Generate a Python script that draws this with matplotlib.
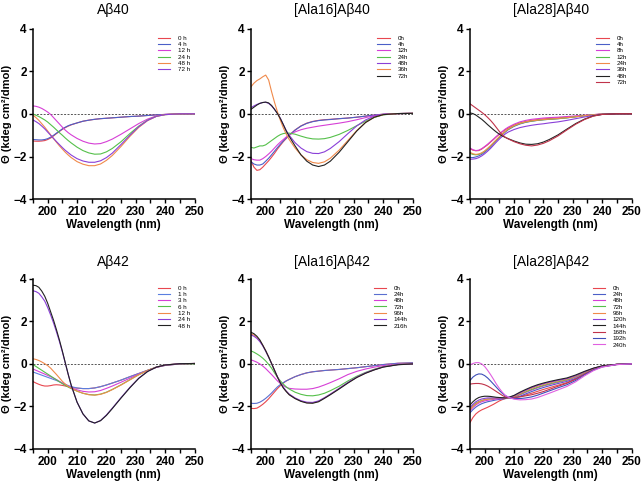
import matplotlib
matplotlib.use("Agg")
import matplotlib.pyplot as plt
from matplotlib.ticker import MultipleLocator

plt.rcParams['font.family'] = ['Liberation Sans', 'DejaVu Sans']

# wavelength grid (nm)
wl = [195, 196, 197, 198, 199, 200, 201, 202, 203, 204, 205, 206, 207, 208,
      210, 212, 214, 216, 218, 220, 222, 225, 228, 231, 234, 237, 240, 245, 250]

RED = '#e8474f'
BLUE = '#4b5fc8'
MAG = '#d63fd6'
GREEN = '#55c04a'
ORANGE = '#f08a4b'
PURPLE = '#8a3fd8'
BLACK = '#222222'
CRIMSON = '#c0334a'
NAVY = '#3e4fb8'
PINK = '#e060e0'

# ---- Abeta40
ab40_labels = ['0 h', '4 h', '12 h', '24 h', '48 h', '72 h']
ab40_colors = [RED, BLUE, MAG, GREEN, ORANGE, PURPLE]
ab40 = [
    [-1.27, -1.28, -1.28, -1.27, -1.25, -1.2, -1.13, -1.03, -0.92, -0.82, -0.72, -0.64, -0.57, -0.51,
     -0.42, -0.34, -0.29, -0.25, -0.22, -0.2, -0.18, -0.15, -0.12, -0.1, -0.07, -0.04, -0.02, 0.0, 0.0],
    [-1.2, -1.21, -1.22, -1.22, -1.2, -1.16, -1.09, -1.0, -0.9, -0.8, -0.7, -0.62, -0.55, -0.5,
     -0.42, -0.34, -0.29, -0.25, -0.22, -0.2, -0.18, -0.15, -0.12, -0.1, -0.07, -0.04, -0.02, 0.0, 0.0],
    [0.38, 0.36, 0.32, 0.26, 0.18, 0.09, -0.02, -0.17, -0.32, -0.47, -0.62, -0.76, -0.88, -0.98,
     -1.15, -1.28, -1.37, -1.41, -1.39, -1.3, -1.18, -0.95, -0.7, -0.45, -0.24, -0.09, -0.02, 0.01, 0.01],
    [0.0, -0.06, -0.12, -0.2, -0.28, -0.38, -0.5, -0.62, -0.75, -0.88, -1.0, -1.13, -1.25, -1.36,
     -1.56, -1.72, -1.83, -1.89, -1.88, -1.78, -1.62, -1.3, -0.92, -0.57, -0.29, -0.11, -0.03, 0.01, 0.01],
    [-0.05, -0.17, -0.3, -0.46, -0.62, -0.8, -0.98, -1.16, -1.33, -1.5, -1.65, -1.8, -1.93, -2.05,
     -2.24, -2.36, -2.43, -2.43, -2.35, -2.18, -1.95, -1.52, -1.05, -0.63, -0.31, -0.11, -0.03, 0.01, 0.01],
    [-0.28, -0.36, -0.45, -0.57, -0.7, -0.85, -1.0, -1.15, -1.3, -1.44, -1.58, -1.71, -1.82, -1.93,
     -2.1, -2.21, -2.27, -2.27, -2.2, -2.05, -1.84, -1.43, -1.0, -0.6, -0.3, -0.11, -0.03, 0.01, 0.01],
]

# ---- [Ala16]Abeta40
a16_40_labels = ['0h', '4h', '12h', '24h', '48h', '36h', '72h']
a16_40_colors = [RED, BLUE, MAG, GREEN, PURPLE, ORANGE, BLACK]
a16_40 = [
    [-2.2, -2.5, -2.65, -2.62, -2.5, -2.35, -2.2, -2.03, -1.85, -1.65, -1.47, -1.3, -1.15, -1.0,
     -0.75, -0.56, -0.43, -0.35, -0.3, -0.27, -0.25, -0.22, -0.19, -0.15, -0.1, -0.05, -0.01, 0.02, 0.03],
    [-2.25, -2.35, -2.4, -2.4, -2.35, -2.22, -2.08, -1.92, -1.75, -1.58, -1.42, -1.27, -1.13, -1.0,
     -0.76, -0.57, -0.44, -0.36, -0.31, -0.28, -0.26, -0.22, -0.19, -0.15, -0.1, -0.05, -0.01, 0.02, 0.03],
    [-2.1, -2.15, -2.17, -2.17, -2.1, -2.0, -1.88, -1.75, -1.6, -1.45, -1.32, -1.2, -1.08, -0.98,
     -0.84, -0.74, -0.67, -0.62, -0.57, -0.53, -0.49, -0.43, -0.36, -0.27, -0.17, -0.08, -0.02, 0.02, 0.03],
    [-1.57, -1.6, -1.55, -1.5, -1.5, -1.45, -1.35, -1.25, -1.15, -1.05, -0.97, -0.92, -0.9, -0.9,
     -0.95, -1.04, -1.12, -1.17, -1.18, -1.16, -1.1, -0.96, -0.77, -0.55, -0.34, -0.16, -0.04, 0.02, 0.03],
    [0.3, 0.38, 0.45, 0.5, 0.54, 0.55, 0.5, 0.38, 0.22, 0.03, -0.2, -0.5, -0.78, -1.0,
     -1.35, -1.6, -1.77, -1.85, -1.86, -1.78, -1.62, -1.3, -0.92, -0.56, -0.28, -0.1, -0.02, 0.02, 0.03],
    [1.28, 1.45, 1.57, 1.65, 1.75, 1.83, 1.6, 1.05, 0.55, 0.1, -0.3, -0.65, -0.95, -1.2,
     -1.6, -1.92, -2.15, -2.28, -2.32, -2.25, -2.08, -1.7, -1.24, -0.78, -0.4, -0.15, -0.03, 0.02, 0.03],
    [0.22, 0.32, 0.42, 0.5, 0.54, 0.56, 0.52, 0.4, 0.22, 0.02, -0.22, -0.5, -0.8, -1.05,
     -1.5, -1.92, -2.22, -2.4, -2.47, -2.4, -2.22, -1.8, -1.3, -0.8, -0.4, -0.15, -0.03, 0.02, 0.03],
]

# ---- [Ala28]Abeta40
a28_40_labels = ['0h', '4h', '8h', '12h', '24h', '36h', '48h', '72h']
a28_40_colors = [RED, BLUE, MAG, GREEN, ORANGE, PURPLE, BLACK, CRIMSON]
a28_40 = [
    [-1.63, -1.7, -1.73, -1.72, -1.65, -1.55, -1.45, -1.32, -1.2, -1.07, -0.95, -0.84, -0.74, -0.66,
     -0.52, -0.42, -0.35, -0.3, -0.26, -0.23, -0.21, -0.18, -0.15, -0.11, -0.07, -0.03, 0.0, 0.01, 0.01],
    [-2.05, -2.05, -2.02, -1.97, -1.9, -1.8, -1.68, -1.55, -1.4, -1.25, -1.1, -0.97, -0.85, -0.74,
     -0.58, -0.47, -0.39, -0.34, -0.3, -0.27, -0.25, -0.22, -0.18, -0.13, -0.08, -0.04, -0.01, 0.01, 0.01],
    [-1.6, -1.68, -1.72, -1.7, -1.63, -1.53, -1.42, -1.3, -1.18, -1.05, -0.93, -0.82, -0.71, -0.62,
     -0.48, -0.37, -0.3, -0.25, -0.22, -0.19, -0.17, -0.15, -0.12, -0.09, -0.06, -0.03, 0.0, 0.01, 0.01],
    [-1.85, -1.9, -1.92, -1.9, -1.84, -1.75, -1.63, -1.5, -1.36, -1.22, -1.08, -0.95, -0.83, -0.72,
     -0.56, -0.45, -0.38, -0.33, -0.3, -0.27, -0.25, -0.22, -0.18, -0.13, -0.08, -0.04, -0.01, 0.01, 0.01],
    [-1.8, -1.87, -1.9, -1.88, -1.83, -1.74, -1.62, -1.49, -1.35, -1.21, -1.07, -0.94, -0.82, -0.71,
     -0.55, -0.44, -0.37, -0.32, -0.29, -0.26, -0.24, -0.21, -0.17, -0.13, -0.08, -0.04, -0.01, 0.01, 0.01],
    [-2.13, -2.12, -2.1, -2.05, -1.97, -1.87, -1.75, -1.62, -1.47, -1.32, -1.18, -1.05, -0.94, -0.85,
     -0.73, -0.64, -0.58, -0.53, -0.49, -0.46, -0.42, -0.37, -0.3, -0.22, -0.14, -0.07, -0.02, 0.01, 0.01],
    [0.05, 0.02, -0.05, -0.15, -0.25, -0.37, -0.5, -0.62, -0.74, -0.85, -0.95, -1.03, -1.1, -1.16,
     -1.27, -1.36, -1.42, -1.43, -1.4, -1.32, -1.2, -0.98, -0.71, -0.45, -0.24, -0.09, -0.02, 0.01, 0.01],
    [0.48, 0.38, 0.28, 0.18, 0.08, -0.03, -0.16, -0.3, -0.46, -0.64, -0.82, -0.98, -1.09, -1.17,
     -1.3, -1.4, -1.47, -1.5, -1.46, -1.38, -1.26, -1.03, -0.75, -0.48, -0.26, -0.1, -0.02, 0.01, 0.01],
]

# ---- Abeta42
ab42_labels = ['0 h', '1 h', '3 h', '6 h', '12 h', '24 h', '48 h']
ab42_colors = [RED, '#5a7fe0', MAG, GREEN, ORANGE, PURPLE, BLACK]
ab42 = [
    [-0.83, -0.9, -0.96, -1.01, -1.04, -1.04, -1.02, -0.99, -0.98, -0.99, -1.01, -1.04, -1.07, -1.1,
     -1.14, -1.16, -1.16, -1.13, -1.07, -0.99, -0.9, -0.76, -0.6, -0.45, -0.3, -0.16, -0.07, 0.0, 0.02],
    [-0.38, -0.43, -0.48, -0.53, -0.58, -0.63, -0.68, -0.73, -0.78, -0.84, -0.9, -0.96, -1.02, -1.07,
     -1.13, -1.16, -1.16, -1.13, -1.07, -0.99, -0.9, -0.76, -0.6, -0.45, -0.3, -0.16, -0.07, 0.0, 0.02],
    [-0.24, -0.3, -0.36, -0.42, -0.48, -0.54, -0.6, -0.67, -0.74, -0.82, -0.9, -0.98, -1.05, -1.12,
     -1.22, -1.29, -1.32, -1.31, -1.25, -1.15, -1.04, -0.86, -0.67, -0.48, -0.31, -0.16, -0.06, 0.0, 0.02],
    [-0.03, -0.12, -0.21, -0.3, -0.39, -0.48, -0.57, -0.66, -0.75, -0.84, -0.93, -1.01, -1.09, -1.16,
     -1.28, -1.38, -1.44, -1.46, -1.42, -1.33, -1.2, -0.98, -0.74, -0.51, -0.31, -0.15, -0.05, 0.0, 0.0],
    [0.24, 0.21, 0.16, 0.09, 0.01, -0.08, -0.2, -0.35, -0.5, -0.66, -0.82, -0.95, -1.06, -1.14,
     -1.28, -1.38, -1.45, -1.47, -1.43, -1.34, -1.21, -0.99, -0.75, -0.51, -0.31, -0.15, -0.05, 0.01, 0.02],
    [3.44, 3.4, 3.32, 3.15, 2.95, 2.65, 2.3, 1.92, 1.5, 1.05, 0.56, 0.03, -0.5, -1.0,
     -1.8, -2.35, -2.68, -2.78, -2.66, -2.4, -2.08, -1.58, -1.1, -0.67, -0.35, -0.15, -0.05, 0.01, 0.02],
    [3.7, 3.68, 3.6, 3.42, 3.18, 2.85, 2.45, 2.05, 1.6, 1.12, 0.6, 0.05, -0.5, -1.0,
     -1.8, -2.35, -2.68, -2.78, -2.67, -2.42, -2.1, -1.6, -1.12, -0.68, -0.36, -0.15, -0.05, 0.01, 0.02],
]

# ---- [Ala16]Abeta42
a16_42_labels = ['0h', '24h', '48h', '72h', '96h', '144h', '216h']
a16_42_colors = [RED, '#5a6fd0', MAG, GREEN, ORANGE, PURPLE, BLACK]
a16_42 = [
    [-2.09, -2.1, -2.08, -2.0, -1.9, -1.78, -1.64, -1.48, -1.32, -1.16, -1.02, -0.9, -0.8, -0.73,
     -0.6, -0.5, -0.42, -0.37, -0.34, -0.31, -0.29, -0.26, -0.22, -0.18, -0.13, -0.08, -0.03, 0.03, 0.05],
    [-1.85, -1.86, -1.85, -1.8, -1.72, -1.62, -1.5, -1.37, -1.22, -1.08, -0.97, -0.88, -0.8, -0.73,
     -0.6, -0.5, -0.42, -0.37, -0.34, -0.31, -0.29, -0.26, -0.22, -0.18, -0.13, -0.08, -0.03, 0.03, 0.05],
    [0.19, 0.14, 0.08, 0.0, -0.1, -0.22, -0.36, -0.5, -0.65, -0.8, -0.92, -1.02, -1.1, -1.15,
     -1.18, -1.19, -1.19, -1.16, -1.09, -0.99, -0.88, -0.7, -0.5, -0.35, -0.24, -0.15, -0.08, -0.01, 0.0],
    [0.61, 0.55, 0.47, 0.38, 0.27, 0.14, -0.02, -0.2, -0.42, -0.63, -0.8, -0.95, -1.08, -1.18,
     -1.33, -1.43, -1.49, -1.5, -1.46, -1.38, -1.26, -1.05, -0.8, -0.58, -0.4, -0.25, -0.13, -0.03, 0.0],
    [1.42, 1.36, 1.25, 1.09, 0.88, 0.62, 0.33, 0.02, -0.3, -0.61, -0.89, -1.12, -1.29, -1.44,
     -1.62, -1.75, -1.82, -1.83, -1.76, -1.6, -1.43, -1.16, -0.88, -0.63, -0.43, -0.27, -0.14, -0.03, 0.0],
    [1.36, 1.3, 1.2, 1.05, 0.85, 0.6, 0.32, 0.02, -0.3, -0.6, -0.88, -1.1, -1.28, -1.42,
     -1.6, -1.73, -1.8, -1.81, -1.74, -1.59, -1.42, -1.15, -0.87, -0.62, -0.42, -0.27, -0.14, -0.03, 0.0],
    [1.49, 1.42, 1.3, 1.13, 0.88, 0.62, 0.33, 0.02, -0.3, -0.62, -0.9, -1.13, -1.3, -1.45,
     -1.63, -1.76, -1.84, -1.85, -1.78, -1.62, -1.45, -1.18, -0.9, -0.64, -0.44, -0.28, -0.15, -0.04, 0.0],
]

# ---- [Ala28]Abeta42
a28_42_labels = ['0h', '24h', '48h', '72h', '96h', '120h', '144h', '168h', '192h', '240h']
a28_42_colors = [RED, BLUE, MAG, GREEN, ORANGE, PURPLE, BLACK, CRIMSON, NAVY, PINK]
a28_42 = [
    [-2.76, -2.52, -2.35, -2.24, -2.16, -2.1, -2.04, -1.97, -1.9, -1.82, -1.74, -1.68, -1.63, -1.6,
     -1.58, -1.54, -1.46, -1.38, -1.29, -1.2, -1.12, -1.0, -0.88, -0.7, -0.48, -0.27, -0.12, -0.02, 0.0],
    [-2.3, -2.15, -2.03, -1.94, -1.87, -1.82, -1.78, -1.75, -1.72, -1.69, -1.67, -1.65, -1.63, -1.62,
     -1.6, -1.52, -1.41, -1.3, -1.2, -1.11, -1.03, -0.92, -0.82, -0.67, -0.46, -0.26, -0.12, -0.02, 0.0],
    [-2.2, -2.05, -1.93, -1.84, -1.78, -1.74, -1.71, -1.69, -1.67, -1.65, -1.64, -1.63, -1.62, -1.61,
     -1.57, -1.46, -1.34, -1.23, -1.13, -1.04, -0.97, -0.87, -0.78, -0.63, -0.43, -0.24, -0.11, -0.02, 0.0],
    [-2.1, -1.96, -1.85, -1.77, -1.72, -1.68, -1.65, -1.64, -1.63, -1.62, -1.62, -1.62, -1.61, -1.6,
     -1.55, -1.43, -1.31, -1.2, -1.1, -1.01, -0.94, -0.84, -0.75, -0.6, -0.41, -0.23, -0.11, -0.02, 0.0],
    [-2.15, -2.0, -1.88, -1.79, -1.73, -1.69, -1.66, -1.64, -1.63, -1.62, -1.62, -1.62, -1.61, -1.6,
     -1.53, -1.4, -1.27, -1.15, -1.05, -0.97, -0.9, -0.8, -0.72, -0.58, -0.39, -0.22, -0.1, -0.02, 0.0],
    [-2.05, -1.9, -1.78, -1.7, -1.65, -1.62, -1.6, -1.6, -1.6, -1.61, -1.61, -1.61, -1.6, -1.59,
     -1.5, -1.36, -1.23, -1.11, -1.01, -0.93, -0.86, -0.77, -0.69, -0.55, -0.37, -0.21, -0.1, -0.02, 0.0],
    [-1.93, -1.78, -1.66, -1.58, -1.54, -1.52, -1.52, -1.53, -1.55, -1.57, -1.58, -1.59, -1.6, -1.58,
     -1.48, -1.33, -1.2, -1.08, -0.98, -0.9, -0.83, -0.74, -0.66, -0.52, -0.35, -0.2, -0.09, -0.02, 0.0],
    [-0.95, -0.93, -0.92, -0.92, -0.94, -0.98, -1.04, -1.12, -1.21, -1.3, -1.39, -1.48, -1.55, -1.58,
     -1.58, -1.55, -1.5, -1.45, -1.38, -1.3, -1.2, -1.05, -0.91, -0.72, -0.48, -0.27, -0.13, -0.03, 0.0],
    [-0.78, -0.62, -0.52, -0.47, -0.48, -0.55, -0.66, -0.8, -0.95, -1.1, -1.25, -1.38, -1.49, -1.56,
     -1.62, -1.63, -1.6, -1.55, -1.47, -1.37, -1.27, -1.12, -0.98, -0.78, -0.52, -0.29, -0.14, -0.03, 0.0],
    [-0.05, 0.02, 0.06, 0.06, 0.0, -0.12, -0.3, -0.5, -0.72, -0.95, -1.15, -1.33, -1.47, -1.56,
     -1.66, -1.69, -1.68, -1.65, -1.58, -1.48, -1.38, -1.22, -1.06, -0.84, -0.56, -0.32, -0.15, -0.03, 0.0],
]

panels = [
    ('Aβ40', ab40_labels, ab40_colors, ab40),
    ('[Ala16]Aβ40', a16_40_labels, a16_40_colors, a16_40),
    ('[Ala28]Aβ40', a28_40_labels, a28_40_colors, a28_40),
    ('Aβ42', ab42_labels, ab42_colors, ab42),
    ('[Ala16]Aβ42', a16_42_labels, a16_42_colors, a16_42),
    ('[Ala28]Aβ42', a28_42_labels, a28_42_colors, a28_42),
]

fig = plt.figure(figsize=(6.41, 4.82), dpi=100)
lefts = [0.0515, 0.3916, 0.7332]
bottoms = [0.587, 0.0685]
w = 0.252
h = 0.353

for k, (title, labels, colors, data) in enumerate(panels):
    ax = fig.add_axes([lefts[k % 3], bottoms[k // 3], w, h])
    ax.plot([195, 250], [0, 0], ls=(0, (2, 1.5)), color='#555555', lw=0.7, zorder=1)
    for lab, col, ys in zip(labels, colors, data):
        ax.plot(wl, ys, color=col, lw=0.8, label=lab)
    ax.set_xlim(195, 250)
    ax.set_ylim(-4, 4)
    ax.xaxis.set_major_locator(MultipleLocator(10))
    ax.xaxis.set_minor_locator(MultipleLocator(5))
    ax.yaxis.set_major_locator(MultipleLocator(2))
    ax.spines['top'].set_visible(False)
    ax.spines['right'].set_visible(False)
    ax.spines['left'].set_linewidth(1.1)
    ax.spines['bottom'].set_linewidth(1.1)
    ax.tick_params(which='both', length=3, width=1.0, direction='out')
    ax.tick_params(axis='y', pad=1.5)
    ax.tick_params(axis='x', pad=2)
    ax.tick_params(labelsize=8.5)
    for t in ax.get_xticklabels() + ax.get_yticklabels():
        t.set_fontweight('bold')
    ax.set_xlabel('Wavelength (nm)', fontsize=8.5, fontweight='bold', labelpad=1)
    ax.set_ylabel('Θ (kdeg cm²/dmol)', fontsize=8, fontweight='bold', labelpad=1)
    ax.set_title(title, fontsize=10, pad=11 if k < 3 else 9)
    ax.legend(loc='upper right', bbox_to_anchor=(0.99, 0.98), frameon=False,
              fontsize=4.5, handlelength=2.0, handletextpad=1.2, labelspacing=0.15,
              borderpad=0)

fig.savefig('out.png', dpi=100)
